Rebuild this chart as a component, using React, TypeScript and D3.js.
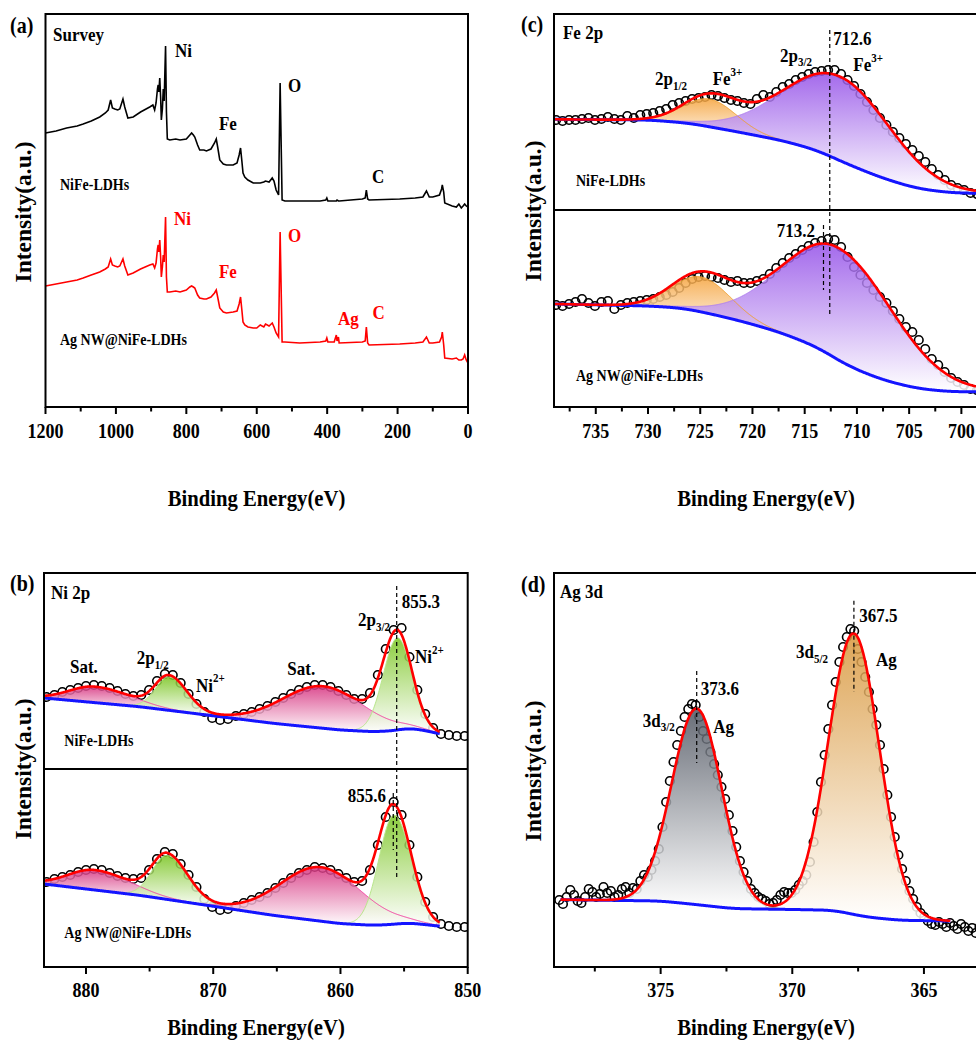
import React from "react";
import * as d3 from "d3";

const FONT = "'Liberation Serif', 'Times New Roman', Times, serif";
const STRETCH = 1.15;

// ---------- (a) survey ----------
const surveyEnergy = [
  1200, 1170, 1140, 1110, 1093, 1070, 1046, 1030, 1022, 1015,
  1010, 1003, 995, 989, 980, 975, 966, 951, 930, 904,
  895, 890, 886, 882, 880, 878, 875.5, 873, 871, 868,
  865.5, 863, 859, 856.5, 854, 847, 830, 818, 800, 790,
  785, 780, 776, 768, 762, 750, 743, 730, 720, 715,
  711, 705, 695, 686, 667, 656, 650, 646, 642, 639,
  634, 625, 610, 600, 590, 580, 575, 565, 556, 551,
  545, 538, 533.6, 528, 520, 478, 420, 404, 401, 398,
  380, 374, 372, 368, 366, 300, 292, 288.7, 285, 281,
  194, 150, 128, 118, 110, 100, 81, 75, 73, 69,
  66, 45, 33, 26, 19, 14, 9.5, 5, 0,
];
const surveyLDH = [
  274, 276, 279, 281, 283, 286, 290, 294, 297, 307,
  299, 298, 297, 298, 308, 300, 289, 290, 295, 300,
  302, 297, 304, 318, 322, 315, 329, 310, 287, 298,
  318, 306, 361, 295, 268, 267, 268, 267, 268, 272,
  274, 272, 270, 262, 257, 257, 256, 258, 264, 268,
  260, 247, 243, 242, 242, 244, 252, 259, 245, 234,
  230, 227, 224, 224, 224, 225, 226, 225, 229, 226,
  217, 212, 324, 207, 206, 206, 206, 207, 209, 206,
  206, 206, 207, 206, 206, 208, 209, 217, 208, 207,
  208, 209, 210, 216, 210, 210, 212, 218, 222, 215,
  204, 201, 200, 203, 199, 201, 203, 201, 200,
];
const surveyAgNW = [
  121, 123, 125, 127, 129, 132, 135, 138, 140, 148,
  142, 141, 140, 141, 148, 141, 132, 134, 138, 142,
  143, 139, 144, 158, 162, 155, 167, 150, 130, 140,
  152, 145, 190, 130, 115, 115, 116, 115, 117, 120,
  121, 120, 119, 112, 109, 108, 108, 110, 114, 117,
  110, 99, 95, 94, 95, 96, 103, 110, 96, 85,
  82, 80, 79, 79, 82, 80, 83, 81, 84, 80,
  74, 70, 175, 65, 65, 64, 65, 66, 69, 65,
  65, 72, 66, 70, 64, 65, 66, 80, 64, 62,
  63, 64, 65, 70, 64, 64, 65, 70, 75, 62,
  49, 48, 49, 47, 47, 48, 52, 47, 44,
];
const surveyTicks = [1200, 1000, 800, 600, 400, 200, 0];
const surveyMinor = [1100, 900, 700, 500, 300, 100];

// peaks: [centre eV, height, sigma high-BE side, sigma low-BE side]
type Peak = number[];

// ---------- (b) Ni 2p ----------
const niStart = 883.1;
const niStep = 0.62;
const niPtsLDH = [
  72, 74, 77, 79, 81, 83, 84, 83, 81, 78,
  75, 73, 74, 79, 88, 95, 94, 86, 75, 65,
  57, 51, 49, 50, 53, 55, 57, 60, 63, 67,
  71, 75, 79, 82, 84, 84, 82, 78, 74, 70,
  70, 76, 94, 120, 139, 141, 112, 79, 55, 41,
  35, 34, 33, 33,
];
const niPtsAgNW = [
  85, 88, 90, 92, 95, 97, 98, 97, 94, 91,
  89, 88, 89, 97, 108, 115, 113, 103, 92, 80,
  68, 60, 57, 58, 61, 64, 67, 70, 74, 79,
  84, 89, 94, 97, 100, 99, 97, 93, 89, 85,
  86, 97, 122, 150, 165, 152, 122, 90, 65, 50,
  43, 41, 40, 40,
];
const niBgEnergy = [883.3, 875.8, 870.5, 865.3, 860, 857.4, 855.8, 854.8, 853.5, 852.2, 850];
const niBgLDH = [71, 62.3, 54, 45.7, 39, 37.3, 38.3, 40.7, 39, 35, 33];
const niBgAgNW = [83, 71.7, 61.7, 51.7, 43.4, 41.7, 42.7, 44, 42.7, 40.7, 39];
const niPeaksLDH: Peak[] = [
  [879.3, 16, 2.0, 2.8],
  [873.45, 33.4, 1.1, 1.4],
  [861.35, 42, 3.2, 3.2],
  [855.53, 92, 1.12, 1.12],
];
const niPeaksAgNW: Peak[] = [
  [879.3, 20, 2.1, 2.8],
  [873.6, 44, 1.2, 1.6],
  [861.5, 54, 3.2, 3.2],
  [855.8, 109, 1.18, 1.33],
];
const niColors = ["#d6307e", "#78c41e", "#d6307e", "#78c41e"];
const niEdge = ["#f040a0", "#b8e68a", "#f040a0", "#b8e68a"];
const niTicks = [880, 870, 860, 850];
const niMinor = [875, 865, 855];
const niMarks = [855.58, 855.85];

// ---------- (c) Fe 2p ----------
const feStart = 738.8;
const feStep = 0.62;
const fePtsLDH = [
  90, 89, 90, 90, 91, 92, 90, 91, 93, 91,
  90, 94, 92, 95, 96, 97, 99, 101, 105, 107,
  109, 111, 112, 113, 115, 114, 112, 110, 109, 107,
  106, 111, 115, 113, 118, 123, 126, 130, 133, 136,
  138, 139, 140, 140, 136, 130, 124, 116, 108, 100,
  92, 85, 78, 72, 66, 60, 54, 48, 41, 35,
  30, 25, 22, 20, 17, 16,
];
const fePtsAgNW = [
  102, 101, 103, 105, 108, 104, 101, 105, 106, 98,
  102, 104, 105, 106, 107, 108, 110, 112, 115, 119,
  124, 128, 130, 131, 130, 129, 127, 125, 126, 124,
  124, 126, 128, 133, 139, 144, 149, 153, 157, 161,
  164, 166, 168, 167, 160, 150, 140, 132, 124, 117,
  110, 104, 96, 88, 80, 75, 67, 58, 48, 42,
  35, 29, 25, 22, 18, 17,
];
const feBgEnergyLDH = [738.8, 729.8, 726.0, 721.5, 717.1, 713.9, 710.7, 707.5, 704.3, 701.1, 698.6];
const feBgLDH = [90.7, 90, 86.7, 78.3, 69.3, 60, 45, 31.7, 21.7, 17.3, 16.7];
const feBgEnergyAgNW = [738.8, 729.8, 726.6, 723.5, 720.3, 717.1, 713.9, 710.7, 707.5, 704.3, 701.1, 698.6];
const feBgAgNW = [103, 101, 98.7, 92, 83.7, 73.7, 60.3, 40.3, 27, 18.7, 15.3, 15.3];
const fePeaksLDH: Peak[] = [
  [724.1, 27.7, 2.55, 2.55],
  [711.6, 84, 5.4, 4.9],
];
const fePeaksAgNW: Peak[] = [
  [724.9, 35, 2.8, 2.8],
  [711.7, 112, 5.4, 5.3],
];
const feColors = ["#f5a23a", "#9450e8"];
const feEdge = ["#f0a030", "#b080f0"];
const feTicks = [735, 730, 725, 720, 715, 710, 705, 700];
const feMinor = [737.5, 732.5, 727.5, 722.5, 717.5, 712.5, 707.5, 702.5];
const feMarks = [712.6, 713.2];

// ---------- (d) Ag 3d ----------
const agStart = 378.85;
const agStep = 0.14;
const agPts = [
  67, 63, 70, 77, 72, 66, 64, 70, 78, 75,
  70, 73, 80, 74, 76, 70, 72, 78, 80, 74,
  79, 78, 86, 92, 90, 97, 106, 118, 140, 165,
  186, 205, 222, 236, 250, 258, 263, 262, 250, 236,
  228, 215, 203, 192, 180, 168, 152, 136, 120, 106,
  95, 86, 78, 74, 70, 68, 66, 63, 64, 67,
  72, 75, 74, 74, 77, 82, 86, 92, 105, 125,
  155, 185, 212, 238, 262, 285, 305, 320, 330, 338,
  336, 318, 305, 290, 275, 258, 242, 222, 198, 172,
  150, 130, 112, 98, 86, 76, 68, 60, 54, 50,
  46, 43, 42, 45, 43, 40, 44, 41, 38, 43,
  40, 36, 39, 34, 40, 43,
];
const agBgEnergy = [379.05, 375.03, 374.0, 372.24, 369.7, 368.44, 367.18, 365.9, 364.0];
const agBg = [67.5, 66, 63.4, 58.4, 57.4, 56.7, 50, 46.7, 46];
const agPeaks: Peak[] = [
  [373.63, 196, 0.95, 0.95],
  [367.66, 281, 0.97, 0.97],
];
const agColors = ["#4e5460", "#d8963a"];
const agEdge = ["#8a8e96", "#e0a85a"];
const agTicks = [375, 370, 365];
const agMinor = [377.5, 372.5, 367.5];
const agMarks = [373.63, 367.66];

// ---------- helpers ----------
const peakAt = (p: Peak, e: number) => {
  const d = e - p[0];
  const s = d > 0 ? p[2] : p[3];
  return p[1] * Math.exp(-(d * d) / (2 * s * s));
};

function makeBg(energy: number[], values: number[], w: number) {
  const lin = d3.scaleLinear().domain(energy).range(values);
  const offs = [-w, -w / 2, 0, w / 2, w];
  return (e: number) => d3.mean(offs, (o) => lin(e + o)) as number;
}

function Txt({ x, y, size, anchor = "start", fill = "#000", children }: any) {
  return (
    <text
      transform={`translate(${x},${y}) scale(1,${STRETCH})`}
      fontSize={size}
      textAnchor={anchor}
      fill={fill}
      fontFamily={FONT}
      fontWeight="bold"
    >
      {children}
    </text>
  );
}
const Sub = ({ children }: any) => (
  <tspan fontSize={11} dy={4}>
    {children}
  </tspan>
);
const Sup = ({ children }: any) => (
  <tspan fontSize={11} dy={-8}>
    {children}
  </tspan>
);

function BottomAxis({ x, y0, ticks, minor, labelY }: any) {
  return (
    <g>
      {ticks.map((t: number) => (
        <line key={"M" + t} x1={x(t)} x2={x(t)} y1={y0} y2={y0 + 7} stroke="#000" strokeWidth={2} />
      ))}
      {minor.map((t: number) => (
        <line key={"m" + t} x1={x(t)} x2={x(t)} y1={y0} y2={y0 + 4.5} stroke="#000" strokeWidth={2} />
      ))}
      {ticks.map((t: number) => (
        <Txt key={"L" + t} x={x(t)} y={labelY} size={18} anchor="middle">
          {t}
        </Txt>
      ))}
    </g>
  );
}

function YTitle({ cx, cy }: any) {
  return (
    <text
      transform={`translate(${cx},${cy}) rotate(-90)`}
      textAnchor="middle"
      dy="0.35em"
      fontSize={23.5}
      fontFamily={FONT}
      fontWeight="bold"
    >
      Intensity(a.u.)
    </text>
  );
}

function Spectrum({ id, x, bottom, range, bgE, bgV, smooth, peaks, colors, edges, pts, pStart, pStep }: any) {
  const y = d3.scaleLinear().domain([0, 100]).range([bottom, bottom - 100]);
  const bg = makeBg(bgE, bgV, smooth);
  const grid = d3.range(range[0], range[1] - 1e-9, -range[2]);
  const line = d3
    .line<number[]>()
    .x((d) => x(d[0]))
    .y((d) => y(d[1]));
  const area = d3
    .area<number[]>()
    .x((d) => x(d[0]))
    .y0((d) => y(d[1]))
    .y1((d) => y(d[2]));
  const env = grid.map((e) => [e, bg(e) + d3.sum(peaks, (p: Peak) => peakAt(p, e))]);
  const comps = peaks.map((p: Peak) =>
    grid.filter((e) => peakAt(p, e) > 0.3).map((e) => [e, bg(e), bg(e) + peakAt(p, e)])
  );
  return (
    <g>
      <defs>
        {colors.map((c: string, i: number) => (
          <linearGradient key={i} id={`${id}-g${i}`} x1="0" y1="0" x2="0" y2="1">
            <stop offset="0" stopColor={c} stopOpacity={0.85} />
            <stop offset="1" stopColor="#ffffff" stopOpacity={0.85} />
          </linearGradient>
        ))}
      </defs>
      {pts.map((v: number, i: number) => (
        <circle key={i} cx={x(pStart - i * pStep)} cy={y(v)} r={4.3} fill="none" stroke="#000" strokeWidth={1.6} />
      ))}
      {comps.map((c: number[][], i: number) => (
        <path key={"a" + i} d={area(c) || ""} fill={`url(#${id}-g${i})`} />
      ))}
      {comps.map((c: number[][], i: number) => (
        <path key={"e" + i} d={line(c.map((d) => [d[0], d[2]])) || ""} fill="none" stroke={edges[i]} strokeWidth={1} />
      ))}
      <path d={line(grid.map((e) => [e, bg(e)])) || ""} fill="none" stroke="#1414ff" strokeWidth={3} />
      <path d={line(env) || ""} fill="none" stroke="#ff0000" strokeWidth={2.6} />
    </g>
  );
}

const Dash = ({ x, y1, y2 }: any) => (
  <line x1={x} x2={x} y1={y1} y2={y2} stroke="#000" strokeWidth={1.2} strokeDasharray="4 3" />
);

export default function App() {
  const xA = d3.scaleLinear().domain([1200, 0]).range([45.5, 468]);
  const yA = d3.scaleLinear().domain([0, 393]).range([407, 14]);
  const xB = d3.scaleLinear().domain([883.3, 850]).range([44, 467.7]);
  const xC = d3.scaleLinear().domain([739, 698.6]).range([554, 976]);
  const xD = d3.scaleLinear().domain([379.05, 363]).range([554, 976.6]);

  const survey = d3
    .line<number>()
    .x((_, i) => xA(surveyEnergy[i]))
    .y((d) => yA(d));

  return (
    <svg
      width={976}
      height={1040}
      style={{ position: "absolute", left: 0, top: 0, background: "#fff" }}
      fontFamily={FONT}
    >
      <defs>
        <clipPath id="clipB">
          <rect x={44} y={573} width={423.7} height={394} />
        </clipPath>
        <clipPath id="clipC">
          <rect x={554} y={14} width={424} height={393} />
        </clipPath>
        <clipPath id="clipD">
          <rect x={554} y={573} width={424} height={394} />
        </clipPath>
      </defs>
      <rect x={0} y={0} width={976} height={1040} fill="#fff" />

      {/* (a) survey */}
      <path d={survey(surveyLDH) || ""} fill="none" stroke="#000" strokeWidth={1.6} />
      <path d={survey(surveyAgNW) || ""} fill="none" stroke="#ff0000" strokeWidth={1.6} />
      <rect x={45.5} y={14} width={422.5} height={393} fill="none" stroke="#000" strokeWidth={2} />
      <BottomAxis x={xA} y0={407} ticks={surveyTicks} minor={surveyMinor} labelY={438} />
      <Txt x={10} y={33} size={20}>(a)</Txt>
      <Txt x={53} y={41} size={17}>Survey</Txt>
      <Txt x={175} y={57} size={17}>Ni</Txt>
      <Txt x={288} y={92} size={17}>O</Txt>
      <Txt x={219} y={130} size={17}>Fe</Txt>
      <Txt x={372} y={183} size={17}>C</Txt>
      <Txt x={60} y={190} size={14}>NiFe-LDHs</Txt>
      <Txt x={174} y={225} size={17} fill="#ff0000">Ni</Txt>
      <Txt x={288} y={242} size={17} fill="#ff0000">O</Txt>
      <Txt x={219} y={278} size={17} fill="#ff0000">Fe</Txt>
      <Txt x={338} y={325} size={17} fill="#ff0000">Ag</Txt>
      <Txt x={372.5} y={319} size={17} fill="#ff0000">C</Txt>
      <Txt x={60} y={345} size={14}>Ag NW@NiFe-LDHs</Txt>
      <YTitle cx={23} cy={212} />
      <Txt x={256.5} y={506} size={20.7} anchor="middle">Binding Energy(eV)</Txt>

      {/* (c) Fe 2p */}
      <g clipPath="url(#clipC)">
        <Spectrum
          id="feT" x={xC} bottom={210} range={[739, 698.6, 0.05]} bgE={feBgEnergyLDH} bgV={feBgLDH}
          smooth={1.2} peaks={fePeaksLDH} colors={feColors} edges={feEdge}
          pts={fePtsLDH} pStart={feStart} pStep={feStep}
        />
        <Spectrum
          id="feB" x={xC} bottom={407} range={[739, 698.6, 0.05]} bgE={feBgEnergyAgNW} bgV={feBgAgNW}
          smooth={1.2} peaks={fePeaksAgNW} colors={feColors} edges={feEdge}
          pts={fePtsAgNW} pStart={feStart} pStep={feStep}
        />
      </g>
      <Dash x={xC(feMarks[0])} y1={30} y2={316} />
      <Dash x={xC(feMarks[1])} y1={225} y2={290} />
      <rect x={554} y={14} width={424} height={393} fill="none" stroke="#000" strokeWidth={2} />
      <line x1={554} x2={978} y1={210} y2={210} stroke="#000" strokeWidth={2} />
      <BottomAxis x={xC} y0={407} ticks={feTicks} minor={feMinor} labelY={438} />
      <Txt x={521} y={32} size={20}>(c)</Txt>
      <Txt x={563} y={38.5} size={17}>Fe 2p</Txt>
      <Txt x={833.3} y={45} size={17}>712.6</Txt>
      <Txt x={780} y={61.7} size={17}>2p<Sub>3/2</Sub></Txt>
      <Txt x={853.3} y={70.7} size={17}>Fe<Sup>3+</Sup></Txt>
      <Txt x={655} y={85} size={17}>2p<Sub>1/2</Sub></Txt>
      <Txt x={712.7} y={85} size={17}>Fe<Sup>3+</Sup></Txt>
      <Txt x={776.7} y={236.7} size={17}>713.2</Txt>
      <Txt x={576} y={186} size={14}>NiFe-LDHs</Txt>
      <Txt x={576} y={381} size={14}>Ag NW@NiFe-LDHs</Txt>
      <YTitle cx={532.5} cy={211} />
      <Txt x={766} y={506} size={20.7} anchor="middle">Binding Energy(eV)</Txt>

      {/* (b) Ni 2p */}
      <g clipPath="url(#clipB)">
        <Spectrum
          id="niT" x={xB} bottom={769} range={[883.3, 852.2, 0.05]} bgE={niBgEnergy} bgV={niBgLDH}
          smooth={0.6} peaks={niPeaksLDH} colors={niColors} edges={niEdge}
          pts={niPtsLDH} pStart={niStart} pStep={niStep}
        />
        <Spectrum
          id="niB" x={xB} bottom={967} range={[883.3, 852.2, 0.05]} bgE={niBgEnergy} bgV={niBgAgNW}
          smooth={0.6} peaks={niPeaksAgNW} colors={niColors} edges={niEdge}
          pts={niPtsAgNW} pStart={niStart} pStep={niStep}
        />
      </g>
      <Dash x={xB(niMarks[0])} y1={586} y2={877} />
      <Dash x={xB(niMarks[1])} y1={793} y2={850} />
      <rect x={44} y={573} width={423.7} height={394} fill="none" stroke="#000" strokeWidth={2} />
      <line x1={44} x2={467.7} y1={769} y2={769} stroke="#000" strokeWidth={2} />
      <BottomAxis x={xB} y0={967} ticks={niTicks} minor={niMinor} labelY={996.5} />
      <Txt x={10} y={591} size={20}>(b)</Txt>
      <Txt x={51} y={598.5} size={17}>Ni 2p</Txt>
      <Txt x={401.7} y={608} size={17}>855.3</Txt>
      <Txt x={358} y={626} size={17}>2p<Sub>3/2</Sub></Txt>
      <Txt x={415} y={663} size={17}>Ni<Sup>2+</Sup></Txt>
      <Txt x={70} y={673} size={17}>Sat.</Txt>
      <Txt x={136.7} y={664} size={17}>2p<Sub>1/2</Sub></Txt>
      <Txt x={196} y={691.5} size={17}>Ni<Sup>2+</Sup></Txt>
      <Txt x={287.3} y={675} size={17}>Sat.</Txt>
      <Txt x={64.3} y={746} size={14}>NiFe-LDHs</Txt>
      <Txt x={347.7} y={801.5} size={17}>855.6</Txt>
      <Txt x={64.3} y={938} size={14}>Ag NW@NiFe-LDHs</Txt>
      <YTitle cx={23} cy={769} />
      <Txt x={256} y={1035} size={20.7} anchor="middle">Binding Energy(eV)</Txt>

      {/* (d) Ag 3d */}
      <g clipPath="url(#clipD)">
        <Spectrum
          id="ag" x={xD} bottom={967} range={[378.8, 364.0, 0.02]} bgE={agBgEnergy} bgV={agBg}
          smooth={0.4} peaks={agPeaks} colors={agColors} edges={agEdge}
          pts={agPts} pStart={agStart} pStep={agStep}
        />
      </g>
      <Dash x={xD(agMarks[0])} y1={671} y2={763} />
      <Dash x={xD(agMarks[1])} y1={600.7} y2={692} />
      <rect x={554} y={573} width={424} height={394} fill="none" stroke="#000" strokeWidth={2} />
      <BottomAxis x={xD} y0={967} ticks={agTicks} minor={agMinor} labelY={996.5} />
      <Txt x={521} y={592} size={20}>(d)</Txt>
      <Txt x={560} y={598} size={17}>Ag 3d</Txt>
      <Txt x={859.3} y={621.7} size={17}>367.5</Txt>
      <Txt x={796} y={658} size={17}>3d<Sub>5/2</Sub></Txt>
      <Txt x={876} y={666} size={17}>Ag</Txt>
      <Txt x={700.7} y={695} size={17}>373.6</Txt>
      <Txt x={642.7} y={726.7} size={17}>3d<Sub>3/2</Sub></Txt>
      <Txt x={713.3} y={733} size={17}>Ag</Txt>
      <YTitle cx={532.5} cy={771} />
      <Txt x={766} y={1035} size={20.7} anchor="middle">Binding Energy(eV)</Txt>
    </svg>
  );
}
